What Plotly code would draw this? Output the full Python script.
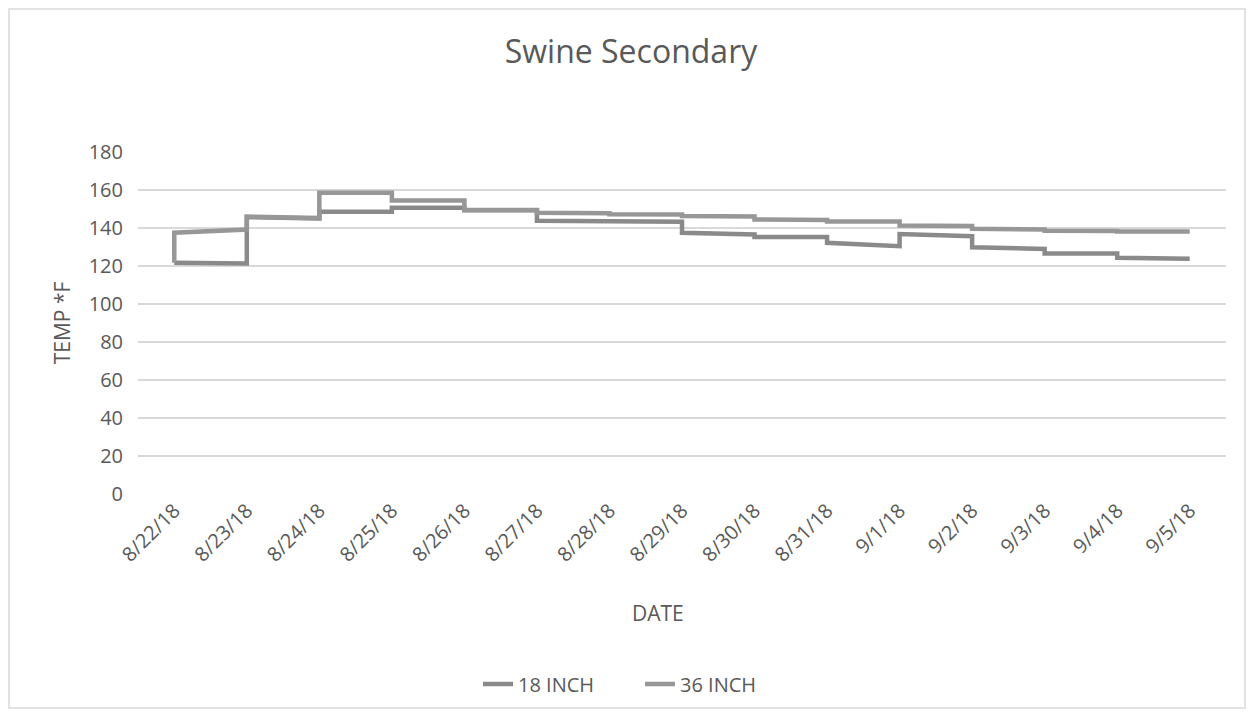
import plotly.graph_objects as go

# ---- data ----
dates = ["8/22/18", "8/23/18", "8/24/18", "8/25/18", "8/26/18", "8/27/18", "8/28/18",
         "8/29/18", "8/30/18", "8/31/18", "9/1/18", "9/2/18", "9/3/18", "9/4/18", "9/5/18"]

# several readings per day (plotted at the same date position)
readings_18 = [
    [121.7],
    [121.3, 145.7],
    [145.0, 148.6],
    [148.6, 150.7],
    [150.6, 149.3],
    [149.3, 143.8],
    [143.5, 143.3],
    [143.3, 137.5],
    [136.6, 135.2],
    [135.2, 132.2],
    [130.4, 136.8],
    [135.7, 129.9],
    [129.0, 126.6],
    [126.6, 124.3],
    [123.8],
]
readings_36 = [
    [121.7, 137.5],
    [139.2, 146.0],
    [145.2, 158.6],
    [158.6, 154.5],
    [154.5, 149.5],
    [149.5, 148.0],
    [147.8, 147.2],
    [147.1, 146.3],
    [146.1, 144.5],
    [144.2, 143.4],
    [143.4, 141.3],
    [141.0, 139.6],
    [139.2, 138.5],
    [138.4, 138.2],
    [138.2],
]

series_names = ["18 INCH", "36 INCH"]
series_colors = ["#8a8a8a", "#979797"]
x_title = "DATE"
y_title = "TEMP *F"
chart_title = "Swine Secondary"


def flatten(readings):
    xs, ys = [], []
    for i, day in enumerate(readings):
        for v in day:
            xs.append(i)
            ys.append(v)
    return xs, ys


fig = go.Figure()
for name, readings, color in zip(series_names, [readings_18, readings_36], series_colors):
    xs, ys = flatten(readings)
    fig.add_trace(go.Scatter(x=xs, y=ys, mode="lines", name=name,
                             line=dict(color=color, width=4.5)))

FONT = "Open Sans"
TXT = "#595959"

W, H = 1238, 701
L, R, T, B = 130, 20, 144, 215
PW, PH = W - L - R, H - T - B

fig.update_layout(
    width=W, height=H,
    margin=dict(l=L, r=R, t=T, b=B, autoexpand=False),
    paper_bgcolor="white", plot_bgcolor="white",
    font=dict(family=FONT, color=TXT, size=20),
    title=dict(text=chart_title, x=623 / W, xanchor="center",
               y=1 - 44 / H, yanchor="middle",
               font=dict(family=FONT, size=32, color=TXT)),
    xaxis=dict(range=[-0.5, 14.5], tickmode="array", tickvals=list(range(len(dates))),
               ticktext=dates, tickangle=-45, showgrid=False, zeroline=False,
               showline=False, ticks="", tickfont=dict(size=20, color=TXT)),
    yaxis=dict(range=[0, 180], dtick=20, showgrid=True, gridcolor="#d9d9d9", gridwidth=1.5,
               zeroline=False, showline=False, ticks="", tickfont=dict(size=20, color=TXT),
               ticklabelstandoff=14,
               title=dict(text=y_title, font=dict(size=21, color=TXT), standoff=12)),
    legend=dict(orientation="h", xref="container", yref="container",
                x=470 / W, xanchor="left",
                y=1 - 676 / H, yanchor="middle", entrywidth=117,
                bgcolor="rgba(0,0,0,0)",
                font=dict(size=20, color=TXT), traceorder="normal"),
    showlegend=True,
)

# x-axis title, placed where the reference has it
fig.add_annotation(text=x_title, xref="paper", yref="paper",
                   x=(650 - L) / PW, y=(T + PH - 605) / PH,
                   xanchor="center", yanchor="middle", showarrow=False,
                   font=dict(size=21, color=TXT, family=FONT))

# outer chart border
fig.add_shape(type="rect", xref="paper", yref="paper",
              x0=(1 - L) / PW, x1=(W - 1 - L) / PW,
              y0=(T + PH - (H - 1)) / PH, y1=(T + PH - 1) / PH,
              line=dict(color="#d9d9d9", width=1.5), fillcolor="rgba(0,0,0,0)", layer="below")

fig.write_html("out.html")
